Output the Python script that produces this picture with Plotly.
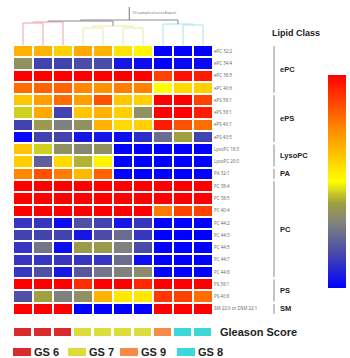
import plotly.graph_objects as go

W, H = 350, 358

row_labels = ["ePC 32:2", "ePC 34:4", "ePC 38:5", "ePC 40:6",
              "ePS 38:1", "ePS 38:1", "ePS 40:1", "ePS 40:5",
              "LysoPC 18:3", "LysoPC 20:0", "PA 32:1",
              "PC 38:4", "PC 38:5", "PC 40:4", "PC 44:2", "PC 44:3",
              "PC 44:5", "PC 44:7", "PC 44:8",
              "PS 38:1", "PS 40:8", "SM 22:0 or DSM 22:1"]

# relative expression (0 = low/blue, 1 = high/red), 10 samples per row
z_values = [
    [0.66, 0.66, 0.60, 0.68, 0.66, 0.56, 0.52, 0.00, 0.00, 0.00],
    [0.35, 0.15, 0.15, 0.17, 0.17, 0.05, 0.03, 0.00, 0.02, 0.02],
    [1.00, 1.00, 1.00, 1.00, 1.00, 1.00, 1.00, 0.88, 0.97, 0.95],
    [0.80, 0.82, 0.82, 0.75, 0.73, 0.77, 0.76, 0.50, 0.58, 0.60],
    [0.62, 0.70, 0.80, 0.70, 0.85, 0.62, 0.60, 1.00, 1.00, 0.88],
    [0.45, 0.68, 0.15, 0.62, 0.66, 0.60, 0.35, 1.00, 1.00, 0.95],
    [0.15, 0.38, 0.30, 0.35, 0.66, 0.58, 0.60, 0.95, 0.85, 0.80],
    [0.02, 0.15, 0.15, 0.05, 0.05, 0.03, 0.10, 0.25, 0.40, 0.15],
    [0.62, 0.45, 0.35, 0.32, 0.35, 0.00, 0.00, 0.00, 0.00, 0.00],
    [0.60, 0.22, 0.58, 0.42, 0.52, 0.00, 0.00, 0.00, 0.00, 0.00],
    [0.75, 0.85, 0.77, 0.65, 0.82, 0.00, 0.00, 0.00, 0.00, 0.00],
    [1.00, 1.00, 1.00, 1.00, 1.00, 1.00, 1.00, 1.00, 1.00, 1.00],
    [1.00, 1.00, 1.00, 1.00, 1.00, 1.00, 1.00, 1.00, 1.00, 1.00],
    [1.00, 1.00, 1.00, 1.00, 1.00, 1.00, 1.00, 0.78, 0.88, 0.88],
    [0.12, 0.12, 0.03, 0.18, 0.15, 0.05, 0.12, 0.00, 0.00, 0.00],
    [0.15, 0.15, 0.15, 0.05, 0.17, 0.25, 0.12, 0.00, 0.00, 0.00],
    [0.12, 0.27, 0.03, 0.38, 0.38, 0.30, 0.17, 0.00, 0.00, 0.00],
    [0.12, 0.12, 0.12, 0.12, 0.12, 0.25, 0.03, 0.00, 0.00, 0.00],
    [0.12, 0.18, 0.05, 0.20, 0.27, 0.30, 0.33, 0.00, 0.00, 0.00],
    [1.00, 1.00, 1.00, 0.92, 1.00, 1.00, 0.93, 1.00, 1.00, 1.00],
    [0.18, 0.40, 0.30, 0.35, 0.66, 0.55, 0.55, 0.90, 0.88, 0.80],
    [1.00, 1.00, 1.00, 0.00, 0.00, 0.00, 0.00, 1.00, 1.00, 1.00],
]

samples = list(range(10))
gleason_codes = [0, 0, 0, 1, 1, 1, 1, 2, 3, 3]
gleason_names = ["GS 6", "GS 7", "GS 9", "GS 8"]
gleason_colors = ["#d92b2b", "#dcdc3a", "#f88a48", "#3cd8d8"]

lipid_classes = ["ePC", "ePS", "LysoPC", "PA", "PC", "PS", "SM"]
class_rows = [(0, 3), (4, 7), (8, 9), (10, 10), (11, 18), (19, 20), (21, 21)]

# dendrogram merges: (child_a, child_b, height, color) ; new ids from 10
merges = [
    (0, 1, 22, "#eda0aa"),
    (10, 2, 23, "#eda0aa"),
    (3, 4, 17, "#ece6a8"),
    (5, 6, 17, "#ece6a8"),
    (12, 13, 19, "#ece6a8"),
    (8, 9, 20, "#a6e2ee"),
    (7, 15, 21, "#a6e2ee"),
    (11, 14, 24, "#8a8a8a"),
    (17, 16, 25, "#8a8a8a"),
]
root_top = 38

colorscale = [[0.0, "#0000ff"], [0.15, "#4343b0"], [0.3, "#808080"],
              [0.4, "#a0a040"], [0.5, "#ffff00"], [0.75, "#ff8800"],
              [1.0, "#ff0000"]]


def px_x(p):
    return p / W


def px_y(p):
    return 1 - p / H


fig = go.Figure()

fig.add_trace(go.Heatmap(
    z=z_values, x=samples, y=list(range(len(row_labels))),
    colorscale=colorscale, zmin=0, zmax=1, xgap=2, ygap=2,
    xaxis="x", yaxis="y", hoverinfo="skip",
    colorbar=dict(x=px_x(328), xanchor="left", y=px_y(288), yanchor="bottom",
                  len=(288 - 75) / H, lenmode="fraction", thickness=18,
                  thicknessmode="pixels", outlinewidth=0, xpad=0, ypad=0,
                  showticklabels=False, ticks=""),
))

gs_scale = []
n = len(gleason_colors)
for i, c in enumerate(gleason_colors):
    gs_scale.append([i / n, c])
    gs_scale.append([(i + 1) / n, c])
fig.add_trace(go.Heatmap(
    z=[gleason_codes], x=samples, y=[0], colorscale=gs_scale,
    zmin=-0.5, zmax=n - 0.5, showscale=False, xgap=3, ygap=0,
    xaxis="x", yaxis="y2", hoverinfo="skip"))

# dendrogram
pos = {i: (float(i), 0.0) for i in samples}
nid = len(samples)
for a, b, h, col in merges:
    xa, ha = pos[a]
    xb, hb = pos[b]
    fig.add_trace(go.Scatter(x=[xa, xa, xb, xb], y=[ha, h, h, hb],
                             mode="lines", line=dict(color=col, width=1),
                             xaxis="x", yaxis="y3", showlegend=False,
                             hoverinfo="skip"))
    pos[nid] = ((xa + xb) / 2, h)
    nid += 1
rx, rh = pos[nid - 1]
fig.add_trace(go.Scatter(x=[rx, rx], y=[rh, root_top], mode="lines",
                         line=dict(color="#777777", width=1),
                         xaxis="x", yaxis="y3", showlegend=False,
                         hoverinfo="skip"))

shapes = []
annotations = []

annotations.append(dict(x=rx, y=rh + 3, xref="x", yref="y3",
                        text="10 samples/scoreExpen", showarrow=False,
                        xanchor="left", yanchor="bottom", xshift=1,
                        font=dict(size=4, color="#666666")))

bold = "Liberation Sans"
for name, (r0, r1) in zip(lipid_classes, class_rows):
    shapes.append(dict(type="line", xref="paper", yref="y",
                       x0=px_x(274), x1=px_x(274), y0=r0 - 0.4, y1=r1 + 0.4,
                       line=dict(color="#b0b0b0", width=1.5)))
    annotations.append(dict(x=px_x(278), y=(r0 + r1) / 2, xref="paper",
                            yref="y", text="<b>%s</b>" % name,
                            showarrow=False, xanchor="left", yanchor="middle",
                            font=dict(family=bold, size=7.5, color="#222222")))

annotations.append(dict(x=px_x(270), y=px_y(33), xref="paper", yref="paper",
                        text="<b>Lipid Class</b>", showarrow=False,
                        xanchor="left", yanchor="middle",
                        font=dict(family=bold, size=9, color="#222222")))
annotations.append(dict(x=px_x(218), y=px_y(332), xref="paper", yref="paper",
                        text="<b>Gleason Score</b>", showarrow=False,
                        xanchor="left", yanchor="middle",
                        font=dict(family=bold, size=11, color="#222222")))

legend_order = [0, 1, 2, 3]
box_x = [13, 68, 120, 177]
for k, bx in zip(legend_order, box_x):
    shapes.append(dict(type="rect", xref="paper", yref="paper",
                       x0=px_x(bx), x1=px_x(bx + 18), y0=px_y(356),
                       y1=px_y(348), fillcolor=gleason_colors[k],
                       line=dict(width=0)))
    annotations.append(dict(x=px_x(bx + 19), y=px_y(352), xref="paper",
                            yref="paper", text="<b>%s</b>" % gleason_names[k],
                            showarrow=False, xanchor="left", yanchor="middle",
                            font=dict(family=bold, size=11, color="#222222")))

fig.update_layout(
    width=W, height=H, margin=dict(l=0, r=0, t=0, b=0),
    paper_bgcolor="white", plot_bgcolor="white", showlegend=False,
    xaxis=dict(domain=[px_x(13), px_x(213)], range=[-0.5, 9.5],
               visible=False, fixedrange=True),
    yaxis=dict(domain=[px_y(315), px_y(45)], range=[21.5, -0.5],
               side="right", tickvals=list(range(len(row_labels))),
               ticktext=row_labels, tickfont=dict(size=4.5, color="#666666"),
               showgrid=False, zeroline=False, ticks="", showline=False),
    yaxis2=dict(domain=[px_y(336), px_y(328)], range=[-0.5, 0.5],
                visible=False),
    yaxis3=dict(domain=[px_y(45), px_y(4)], range=[0, 41], visible=False),
    shapes=shapes, annotations=annotations,
)

fig.write_html("out.html", config={"displayModeBar": False},
               post_script="document.body.style.margin='0px';"
                           "document.body.style.overflow='hidden';")
